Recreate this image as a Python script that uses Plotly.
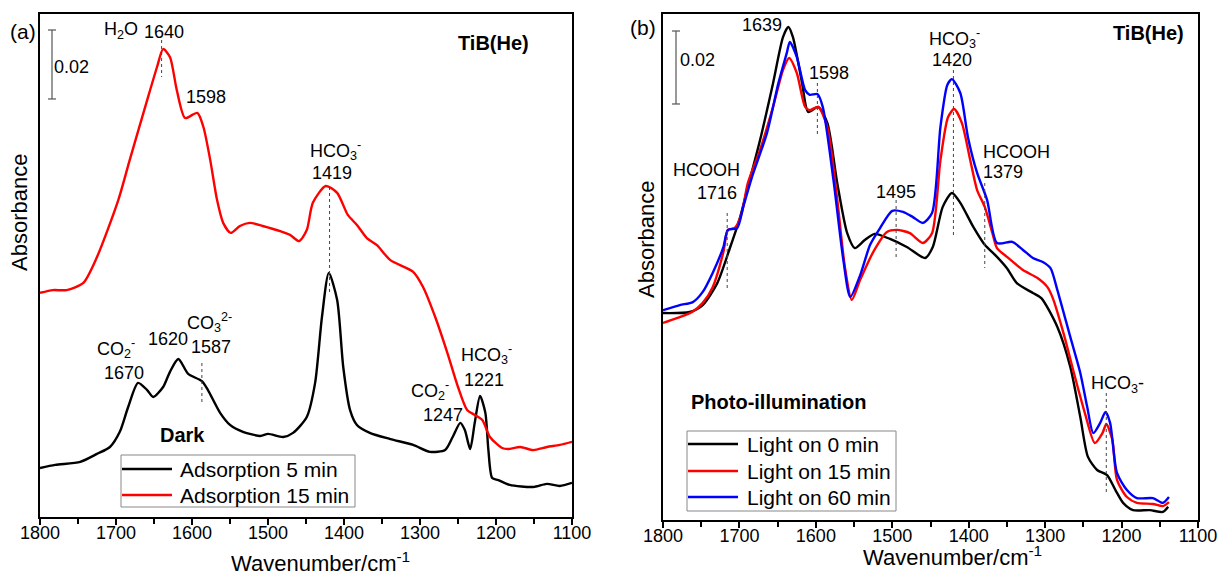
import plotly.graph_objects as go

W, H = 1219, 575

# ---------------- Panel (a): dark adsorption (absorbance in mAbs, offset) ----------------
wn_a5 = [1800, 1780, 1747, 1725, 1708, 1695, 1684, 1671, 1659, 1651, 1638, 1629, 1618, 1605,
         1587, 1579, 1563, 1550, 1533, 1510, 1500, 1480, 1467, 1449, 1438, 1429, 1420, 1409,
         1401, 1392, 1383, 1366, 1339, 1309, 1287, 1267, 1257, 1247, 1241, 1234, 1228, 1221,
         1214, 1210, 1205, 1197, 1182, 1151, 1133, 1116, 1100]
abs_a5 = [14.2, 15.1, 16.0, 18.3, 20.3, 24.7, 31.9, 38.9, 36.8, 34.8, 37.7, 42.1, 45.8, 41.5,
          39.4, 36.8, 30.2, 26.7, 24.7, 23.5, 24.1, 23.2, 24.4, 29.0, 38.9, 58.0, 70.8, 62.9,
          43.5, 31.0, 26.7, 24.4, 22.6, 20.9, 18.9, 19.4, 23.2, 27.3, 25.2, 19.7, 27.3, 35.1,
          30.2, 19.4, 11.3, 10.7, 9.3, 8.7, 9.6, 9.0, 9.9]

wn_a15 = [1800, 1783, 1765, 1743, 1725, 1697, 1682, 1659, 1646, 1638, 1629, 1620, 1609, 1593,
          1585, 1576, 1567, 1559, 1549, 1537, 1524, 1507, 1484, 1471, 1459, 1449, 1441, 1424,
          1409, 1395, 1383, 1370, 1357, 1339, 1309, 1296, 1280, 1264, 1250, 1238, 1228, 1218,
          1208, 1192, 1184, 1168, 1151, 1133, 1116, 1100]
abs_a15 = [65.0, 65.8, 65.8, 67.9, 75.4, 91.9, 103.5, 120.9, 130.5, 135.7, 133.4, 123.8, 115.7, 117.2,
           113.1, 103.5, 91.9, 85.3, 82.4, 84.4, 85.3, 84.4, 82.9, 81.8, 80.0, 83.2, 91.1, 96.0,
           94.0, 87.6, 84.7, 80.9, 78.9, 74.5, 71.1, 66.7, 58.0, 47.6, 37.7, 31.0, 29.6, 28.1,
           23.2, 20.0, 19.7, 20.3, 19.4, 20.3, 20.9, 21.8]

# ---------------- Panel (b): photo-illumination ----------------
wn_b0 = [1800, 1765, 1748, 1729, 1712, 1699, 1690, 1673, 1656, 1643, 1636, 1630, 1618, 1610,
         1597, 1585, 1572, 1559, 1549, 1536, 1523, 1503, 1481, 1457, 1447, 1434, 1422, 1411,
         1394, 1379, 1363, 1350, 1337, 1316, 1305, 1284, 1267, 1254, 1244, 1232, 1219, 1208,
         1198, 1185, 1163, 1146, 1139]
abs_b0 = [56.7, 57.0, 58.9, 64.9, 74.8, 83.0, 90.4, 104.1, 119.7, 132.3, 135.1, 132.3, 119.7, 111.8,
          113.2, 108.8, 92.3, 78.6, 74.5, 76.7, 78.4, 77.0, 74.8, 71.8, 74.8, 85.8, 89.6, 86.9,
          80.3, 75.4, 72.1, 69.0, 64.9, 62.2, 60.8, 52.9, 41.9, 28.2, 17.3, 13.7, 12.3, 8.2,
          4.7, 2.7, 2.7, 2.2, 3.6]

wn_b15 = [1800, 1782, 1762, 1748, 1735, 1721, 1715, 1706, 1697, 1689, 1673, 1656, 1643, 1635,
          1625, 1614, 1608, 1597, 1585, 1572, 1562, 1553, 1542, 1525, 1507, 1494, 1477, 1460,
          1448, 1437, 1427, 1419, 1409, 1398, 1389, 1379, 1369, 1363, 1350, 1329, 1310, 1297,
          1290, 1276, 1261, 1248, 1235, 1225, 1220, 1212, 1206, 1193, 1180, 1159, 1146, 1138]
abs_b15 = [54.0, 55.3, 57.0, 59.5, 63.8, 73.4, 79.5, 80.0, 84.1, 92.3, 101.4, 113.2, 123.3, 126.6,
           122.5, 113.2, 112.3, 113.2, 107.7, 87.7, 69.3, 60.3, 65.8, 73.4, 78.9, 79.5, 78.6, 75.9,
           78.6, 98.6, 110.4, 112.6, 108.8, 98.6, 90.4, 85.8, 78.6, 74.5, 72.1, 68.5, 66.3, 63.8,
           60.8, 51.2, 39.2, 29.3, 21.1, 23.8, 26.3, 21.9, 11.0, 6.3, 4.7, 4.4, 3.8, 4.9]

wn_b60 = [1800, 1778, 1761, 1748, 1735, 1721, 1715, 1703, 1695, 1684, 1664, 1649, 1638, 1634,
          1625, 1614, 1608, 1598, 1591, 1577, 1564, 1555, 1542, 1529, 1516, 1500, 1486, 1473,
          1460, 1448, 1437, 1428, 1422, 1411, 1401, 1389, 1376, 1363, 1343, 1329, 1316, 1303,
          1293, 1284, 1267, 1254, 1245, 1237, 1228, 1221, 1215, 1206, 1193, 1180, 1159, 1146, 1138]
abs_b60 = [57.5, 58.9, 59.7, 62.5, 67.7, 74.8, 79.5, 80.0, 85.8, 93.7, 106.0, 119.7, 128.0, 131.0,
           126.9, 117.8, 116.5, 116.7, 113.2, 93.2, 71.2, 61.1, 67.1, 75.4, 80.0, 84.7, 84.4, 83.0,
           81.4, 84.1, 107.7, 119.2, 120.8, 117.0, 104.9, 95.1, 87.7, 75.9, 76.2, 74.0, 71.8, 70.7,
           69.0, 63.0, 50.1, 40.3, 31.0, 23.8, 26.6, 29.6, 26.6, 12.9, 8.2, 6.0, 6.0, 4.7, 6.3]

x_ticks = [1800, 1700, 1600, 1500, 1400, 1300, 1200, 1100]
legend_a = ["Adsorption 5 min", "Adsorption 15 min"]
legend_b = ["Light on 0 min", "Light on 15 min", "Light on 60 min"]
SCALE_MABS = 20  # 0.02 absorbance scale bar

FONT = "Arial, Liberation Sans, sans-serif"
LW = 2.4
BLACK, RED, BLUE = "black", "#ff0000", "#0000ff"

fig = go.Figure()
series = [
    (wn_a5, abs_a5, legend_a[0], BLACK, "x", "y"),
    (wn_a15, abs_a15, legend_a[1], RED, "x", "y"),
    (wn_b0, abs_b0, legend_b[0], BLACK, "x2", "y2"),
    (wn_b15, abs_b15, legend_b[1], RED, "x2", "y2"),
    (wn_b60, abs_b60, legend_b[2], BLUE, "x2", "y2"),
]
for xs, ys, name, col, xa, ya in series:
    fig.add_trace(go.Scatter(x=xs, y=ys, mode="lines", name=name, showlegend=False,
                             line=dict(color=col, width=LW, shape="spline", smoothing=0.7),
                             xaxis=xa, yaxis=ya))


def px(xp):
    return xp / W


def py(yp):
    return 1 - yp / H


# panel geometry (pixels)
A_L, A_R, A_T, A_B = 40, 572, 14, 517
B_L, B_R, B_T, B_B = 663, 1198, 14, 520

xax = dict(range=[1800, 1100], tickvals=x_ticks, ticks="outside", ticklen=6, tickwidth=1.5,
           tickcolor="black", showline=True, linecolor="black", linewidth=1.8, mirror=True,
           showgrid=False, zeroline=False, tickfont=dict(family=FONT, size=18, color="black"),
           ticklabelstandoff=-8,
           minor=dict(tickvals=list(range(1750, 1100, -100)), ticks="outside", ticklen=5,
                      tickwidth=1.5, tickcolor="black", showgrid=False))
yax = dict(showticklabels=False, ticks="", showline=True, linecolor="black", linewidth=1.8,
           mirror=True, showgrid=False, zeroline=False)

fig.update_layout(
    width=W, height=H, margin=dict(l=0, r=0, t=0, b=0, autoexpand=False),
    paper_bgcolor="white", plot_bgcolor="white",
    xaxis=dict(xax, domain=[px(A_L), px(A_R)], anchor="y"),
    yaxis=dict(yax, domain=[py(A_B), py(A_T)], range=[0, (A_B - A_T) * 0.29], anchor="x"),
    xaxis2=dict(xax, domain=[px(B_L), px(B_R)], anchor="y2"),
    yaxis2=dict(yax, domain=[py(B_B), py(B_T)], range=[0, (B_B - B_T) * 0.274], anchor="x2"),
    showlegend=False,
)

annotations = []
shapes = []


def ann(text, cx, cy, size=18, bold=False, xanchor="center"):
    if bold:
        text = "<b>" + text + "</b>"
    annotations.append(dict(text=text, x=px(cx), y=py(cy), xref="paper", yref="paper",
                            showarrow=False, xanchor=xanchor, yanchor="middle",
                            font=dict(family=FONT, size=size, color="black")))


HCO3 = "HCO<sub>3</sub><sup>-</sup>"
CO2 = "CO<sub>2</sub><sup>-</sup>"

# panel (a) texts
ann("(a)", 23, 31, 21)
ann("0.02", 71, 67, 18)
ann("H<sub>2</sub>O", 121, 30, 18)
ann("1640", 164, 32, 18)
ann("1598", 206, 97, 18)
ann(HCO3, 335, 150, 18)
ann("1419", 332, 173, 18)
ann("TiB(He)", 493, 43, 20, bold=True)
ann(CO2, 116, 348, 18)
ann("1670", 124, 373, 18)
ann("1620", 168, 339, 18)
ann("CO<sub>3</sub><sup>2-</sup>", 209, 322, 18)
ann("1587", 211, 347, 18)
ann("Dark", 182, 435, 20, bold=True)
ann(CO2, 430, 390, 18)
ann("1247", 443, 415, 18)
ann(HCO3, 486, 354, 18)
ann("1221", 484, 380, 18)
ann("Wavenumber/cm<sup>-1</sup>", 320, 562, 22)

# panel (b) texts
ann("(b)", 643, 27, 21)
ann("0.02", 697, 60, 18)
ann("1639", 762, 25, 18)
ann("1598", 829, 73, 18)
ann("HCOOH", 706, 170, 18)
ann("1716", 717, 193, 18)
ann("1495", 896, 192, 18)
ann(HCO3, 955, 39, 18)
ann("1420", 952, 60, 18)
ann("HCOOH", 1016, 152, 18)
ann("1379", 1003, 172, 18)
ann("TiB(He)", 1148, 33, 20, bold=True)
ann("Photo-illumination", 779, 402, 20, bold=True)
ann("HCO<sub>3</sub>-", 1117, 384, 18)
ann("Wavenumber/cm<sup>-1</sup>", 952, 556, 22)

# y titles
for cx, cy in [(19, 213), (646, 240)]:
    annotations.append(dict(text="Absorbance", x=px(cx), y=py(cy), xref="paper", yref="paper",
                            showarrow=False, textangle=-90, xanchor="center", yanchor="middle",
                            font=dict(family=FONT, size=22, color="black")))

# manual legends (box, sample lines, labels)
legend_specs = [
    (121, 355, 455, 507, [469, 495], legend_a, [BLACK, RED], 122, 172, 178),
    (687, 896, 431, 511, [444, 471, 497], legend_b, [BLACK, RED, BLUE], 688, 738, 745),
]
for x0, x1, y0, y1, rows, names, cols, l0, l1, tx in legend_specs:
    shapes.append(dict(type="rect", xref="paper", yref="paper", x0=px(x0), x1=px(x1),
                       y0=py(y1), y1=py(y0), line=dict(color="#888", width=1),
                       fillcolor="white", layer="above"))
    for ry, name, col in zip(rows, names, cols):
        shapes.append(dict(type="line", xref="paper", yref="paper", x0=px(l0), x1=px(l1),
                           y0=py(ry), y1=py(ry), line=dict(color=col, width=LW)))
        ann(name, tx, ry, 21, xanchor="left")

# dashed peak markers: (wavenumber, y_top_px, y_bottom_px)
marks_a = [(1640, 40, 77), (1587, 363, 403), (1419, 187, 295)]
marks_b = [(1598, 83, 135), (1716, 213, 290), (1495, 200, 257), (1420, 70, 235),
           (1379, 183, 268), (1220, 393, 493)]
for xr, marks in (("x", marks_a), ("x2", marks_b)):
    for wn, y0, y1 in marks:
        shapes.append(dict(type="line", xref=xr, yref="paper", x0=wn, x1=wn, y0=py(y0), y1=py(y1),
                           line=dict(color="#444", width=1, dash="3px,3px")))

# scale bars (0.02 absorbance)
for bx, top, yref, bottom_px, k in [(52, 30, "y", A_B, 0.29), (676, 31, "y2", B_B, 0.274)]:
    vtop = (bottom_px - top) * k
    vbot = vtop - SCALE_MABS
    shapes.append(dict(type="line", xref="paper", yref=yref, x0=px(bx), x1=px(bx), y0=vbot, y1=vtop,
                       line=dict(color="#555", width=1.2)))
    for v in (vbot, vtop):
        shapes.append(dict(type="line", xref="paper", yref=yref, x0=px(bx - 4), x1=px(bx + 4),
                           y0=v, y1=v, line=dict(color="#555", width=1.2)))

fig.update_layout(annotations=annotations, shapes=shapes)

fig.write_html("out.html")
